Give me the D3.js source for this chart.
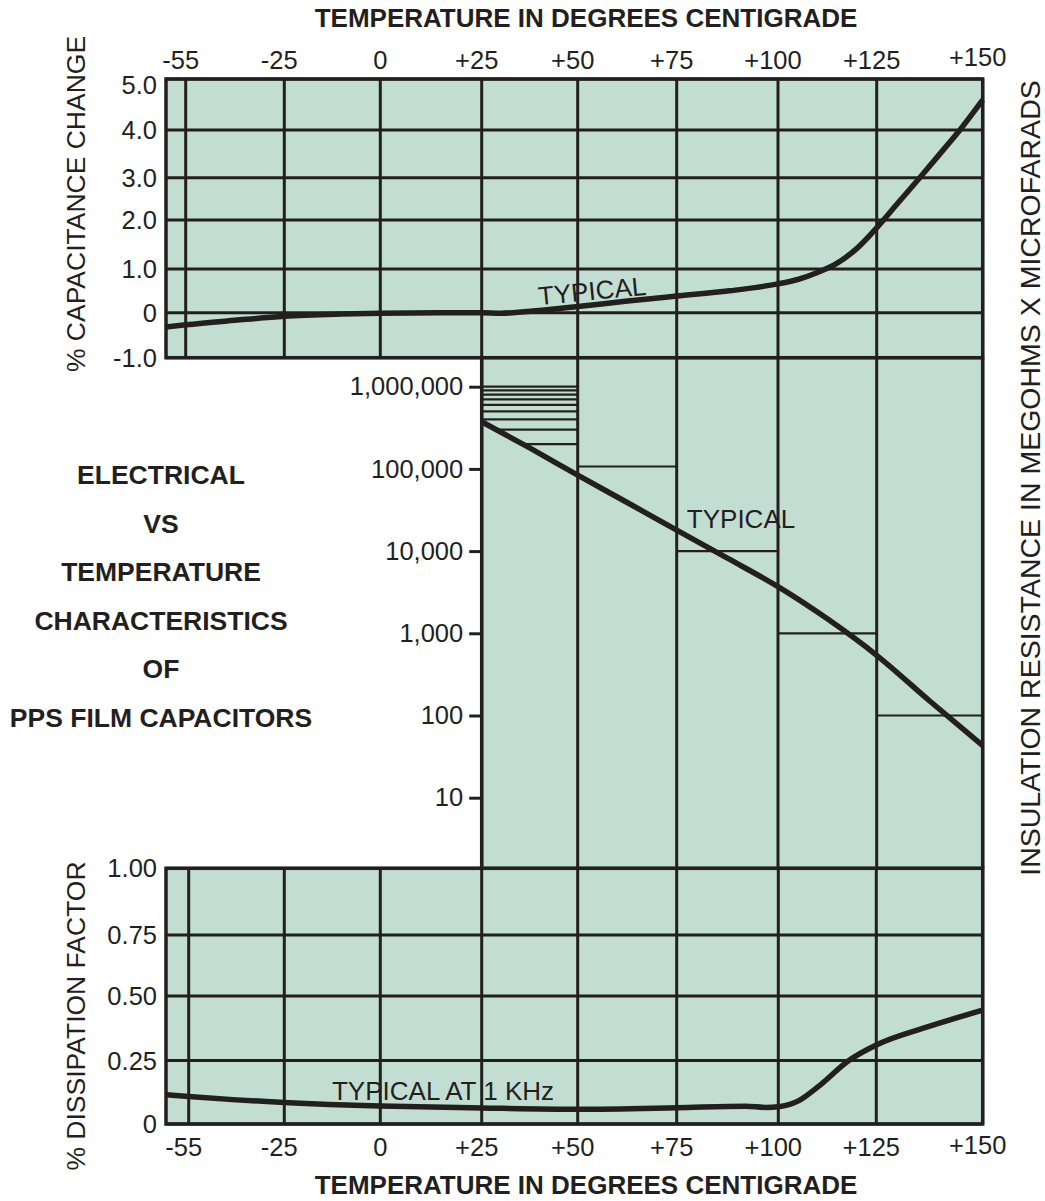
<!DOCTYPE html>
<html>
<head>
<meta charset="utf-8">
<script src="https://cdn.jsdelivr.net/npm/d3@7"></script>
<style>
  body { margin: 0; background: #ffffff; }
  svg { display: block; }
  text { font-family: "Liberation Sans", Arial, Helvetica, sans-serif; fill: #231f20; }
</style>
</head>
<body>
<svg id="chart" width="1045" height="1201"></svg>
<script>
// Temperature grid, °C
const tempTicks  = [-55, -25, 0, 25, 50, 75, 100, 125, 150];
const tempLabels = ["-55", "-25", "0", "+25", "+50", "+75", "+100", "+125", "+150"];

// % capacitance change vs temperature
const capTicks  = [-1, 0, 1, 2, 3, 4, 5];
const capLabels = ["-1.0", "0", "1.0", "2.0", "3.0", "4.0", "5.0"];
const capTemps  = [-61, -55, -40, -25, -10, 0, 15, 25, 30, 40, 50, 62, 75, 88, 100, 105, 110, 115, 120, 125, 130, 135, 140, 145, 150];
const capValues = [-0.32, -0.27, -0.17, -0.08, -0.03, -0.01, 0.0, 0.0, -0.01, 0.05, 0.14, 0.26, 0.38, 0.50, 0.66, 0.76, 0.92, 1.12, 1.42, 1.84, 2.40, 2.98, 3.51, 4.04, 4.59];

// Insulation resistance (megohms x microfarads) vs temperature
const irTicks  = [10, 100, 1000, 10000, 100000, 1000000];
const irLabels = ["10", "100", "1,000", "10,000", "100,000", "1,000,000"];
const irTemps  = [25, 37.5, 50, 62.5, 75, 87.5, 100, 112.5, 125, 137.5, 150];
const irValues = [375000, 180000, 84000, 39000, 18000, 8200, 3700, 1500, 540, 150, 43];

// Minimum IR limits: hatching between +25 and +50, then one step per interval
const irHatchValues = [1000000, 900000, 800000, 700000, 600000, 500000, 400000, 300000, 200000];
const irStepFrom  = [50, 75, 100, 125];
const irStepTo    = [75, 100, 125, 150];
const irStepValue = [107000, 10000, 1000, 100];

// Dissipation factor at 1 kHz vs temperature
const dfTicks  = [0, 0.25, 0.5, 0.75, 1];
const dfLabels = ["0", "0.25", "0.50", "0.75", "1.00"];
const dfTemps  = [-61, -55, -40, -25, 0, 25, 50, 75, 92, 97, 100, 105, 110, 118, 125, 137, 150];
const dfValues = [0.115, 0.108, 0.095, 0.085, 0.071, 0.063, 0.058, 0.064, 0.070, 0.065, 0.068, 0.09, 0.145, 0.25, 0.31, 0.38, 0.445];

const titleLines = ["ELECTRICAL", "VS", "TEMPERATURE", "CHARACTERISTICS", "OF", "PPS FILM CAPACITORS"];

const INK = "#231f20";
const FILL = "#c2ded3";

const svg = d3.select("#chart");

// The printed grid is not perfectly even, so the scales are piecewise linear.
const x = d3.scaleLinear()
  .domain([-61, -55, -25, 0, 25, 50, 75, 100, 125, 150])
  .range([166, 185.7, 284.3, 380.3, 481.7, 577.7, 676.7, 778, 876.7, 982.7]);
const xB = d3.scaleLinear()
  .domain([-61, -55, -25, 0, 25, 50, 75, 100, 125, 150])
  .range([166, 188.7, 284.3, 380.3, 481.7, 577.7, 676.7, 778.3, 876.3, 982.7]);
const yCap = d3.scaleLinear().domain(capTicks).range([357.7, 312.7, 269, 220, 177.7, 130, 79]);
const yIR  = d3.scaleLog().domain([10, 1000000]).range([797.7, 386.7]);
const yDF  = d3.scaleLinear().domain(dfTicks).range([1124, 1060.5, 996, 935, 868.3]);

const xLeft = x(-61), xRight = x(150), xMid = x(25);
const topY0 = yCap(5), topY1 = yCap(-1);
const botY0 = yDF(1), botY1 = yDF(0);

// Panel backgrounds
svg.append("rect").attr("x", xLeft).attr("y", topY0).attr("width", xRight - xLeft).attr("height", topY1 - topY0).attr("fill", FILL);
svg.append("rect").attr("x", xMid).attr("y", topY1).attr("width", xRight - xMid).attr("height", botY0 - topY1).attr("fill", FILL);
svg.append("rect").attr("x", xLeft).attr("y", botY0).attr("width", xRight - xLeft).attr("height", botY1 - botY0).attr("fill", FILL);

const grid = svg.append("g").attr("stroke", INK).attr("stroke-width", 3).attr("fill", "none");

// Top panel grid
capTicks.forEach(v => grid.append("line").attr("x1", xLeft).attr("x2", xRight).attr("y1", yCap(v)).attr("y2", yCap(v)));
tempTicks.forEach(t => grid.append("line").attr("x1", x(t)).attr("x2", x(t)).attr("y1", topY0).attr("y2", topY1));

// Middle panel verticals
tempTicks.filter(t => t >= 25).forEach(t =>
  grid.append("line").attr("x1", x(t)).attr("x2", x(t)).attr("y1", topY1).attr("y2", botY0));

// Bottom panel grid
dfTicks.forEach(v => grid.append("line").attr("x1", xLeft).attr("x2", xRight).attr("y1", yDF(v)).attr("y2", yDF(v)));
tempTicks.forEach(t => grid.append("line").attr("x1", xB(t)).attr("x2", xB(t)).attr("y1", botY0).attr("y2", botY1));

// Insulation resistance curve geometry
const irPts = irTemps.map((t, i) => [t, irValues[i]]);
const irLine = d3.line().x(d => x(d[0])).y(d => yIR(d[1])).curve(d3.curveMonotoneX);

// Hatching between +25 and +50, kept above the typical curve
const defs = svg.append("defs");
defs.append("clipPath").attr("id", "above-ir")
  .append("path")
  .attr("d", d3.area().x(d => x(d[0])).y0(topY1).y1(d => yIR(d[1])).curve(d3.curveMonotoneX)(irPts));

const steps = svg.append("g").attr("stroke", INK).attr("stroke-width", 2.2);
steps.append("g").attr("clip-path", "url(#above-ir)")
  .selectAll("line").data(irHatchValues).join("line")
  .attr("x1", x(25)).attr("x2", x(50))
  .attr("y1", d => yIR(d)).attr("y2", d => yIR(d));
steps.selectAll("line.step").data(irStepValue).join("line").attr("class", "step")
  .attr("x1", (d, i) => x(irStepFrom[i])).attr("x2", (d, i) => x(irStepTo[i]))
  .attr("y1", d => yIR(d)).attr("y2", d => yIR(d));

// Curves
const curves = svg.append("g").attr("fill", "none").attr("stroke", INK).attr("stroke-width", 5.5).attr("stroke-linecap", "butt");
curves.append("path")
  .attr("d", d3.line().x((t) => x(t)).y((t, i) => yCap(capValues[i])).curve(d3.curveMonotoneX)(capTemps));
curves.append("path").attr("d", irLine(irPts));
curves.append("path")
  .attr("d", d3.line().x((t) => xB(t)).y((t, i) => yDF(dfValues[i])).curve(d3.curveMonotoneX)(dfTemps));

// Frames
const frame = svg.append("g").attr("stroke", INK).attr("stroke-width", 3.5).attr("fill", "none");
frame.append("rect").attr("x", xLeft).attr("y", topY0).attr("width", xRight - xLeft).attr("height", topY1 - topY0);
frame.append("rect").attr("x", xLeft).attr("y", botY0).attr("width", xRight - xLeft).attr("height", botY1 - botY0);
frame.append("line").attr("x1", xRight).attr("x2", xRight).attr("y1", topY1).attr("y2", botY0);
frame.append("line").attr("x1", xMid).attr("x2", xMid).attr("y1", topY1).attr("y2", botY0);

const labelSize = 25.5;

// IR axis on the left edge of the middle panel
const irAxis = d3.axisLeft(yIR).tickValues(irTicks).tickFormat((d, i) => irLabels[i]).tickSize(11).tickSizeOuter(0).tickPadding(6);
const gIR = svg.append("g").attr("transform", `translate(${xMid - 1.5},0)`).call(irAxis);
gIR.select(".domain").remove();
gIR.selectAll(".tick line").attr("stroke", INK).attr("stroke-width", 3);
gIR.selectAll(".tick text").attr("font-size", labelSize).attr("fill", INK)
  .attr("font-family", "'Liberation Sans', Arial, sans-serif");

// Tick labels
const tl = svg.append("g").attr("font-size", labelSize);
tempTicks.forEach((t, i) => {
  const dx = t === 0 ? 0 : -5;
  tl.append("text").attr("x", x(t) + dx).attr("y", t === 150 ? 57 : 60)
    .attr("text-anchor", "middle").attr("dominant-baseline", "central").text(tempLabels[i]);
  tl.append("text").attr("x", xB(t) + dx).attr("y", t === 150 ? 1145 : 1147)
    .attr("text-anchor", "middle").attr("dominant-baseline", "central").text(tempLabels[i]);
});
capTicks.forEach((v, i) => {
  tl.append("text").attr("x", 157).attr("y", v === 5 ? yCap(v) + 6 : yCap(v))
    .attr("text-anchor", "end").attr("dominant-baseline", "central").text(capLabels[i]);
});
dfTicks.forEach((v, i) => {
  tl.append("text").attr("x", 157).attr("y", yDF(v))
    .attr("text-anchor", "end").attr("dominant-baseline", "central").text(dfLabels[i]);
});

// Axis titles
svg.append("text").attr("x", 586).attr("y", 18).attr("text-anchor", "middle").attr("dominant-baseline", "central")
  .attr("font-size", 26).attr("font-weight", "bold").text("TEMPERATURE IN DEGREES CENTIGRADE");
svg.append("text").attr("x", 586).attr("y", 1185).attr("text-anchor", "middle").attr("dominant-baseline", "central")
  .attr("font-size", 26).attr("font-weight", "bold").text("TEMPERATURE IN DEGREES CENTIGRADE");
svg.append("text").attr("transform", "translate(76,204) rotate(-90)").attr("text-anchor", "middle").attr("dominant-baseline", "central")
  .attr("font-size", 26.5).text("% CAPACITANCE CHANGE");
svg.append("text").attr("transform", "translate(76,1016) rotate(-90)").attr("text-anchor", "middle").attr("dominant-baseline", "central")
  .attr("font-size", 26.5).text("% DISSIPATION FACTOR");
svg.append("text").attr("transform", "translate(1030,478) rotate(-90)").attr("text-anchor", "middle").attr("dominant-baseline", "central")
  .attr("font-size", 28.5).text("INSULATION RESISTANCE IN MEGOHMS X MICROFARADS");

// Curve annotations
svg.append("text").attr("transform", "translate(592,291) rotate(-5.5)").attr("text-anchor", "middle").attr("dominant-baseline", "central")
  .attr("font-size", 26).text("TYPICAL");
svg.append("text").attr("x", 741).attr("y", 519).attr("text-anchor", "middle").attr("dominant-baseline", "central")
  .attr("font-size", 26).text("TYPICAL");
svg.append("text").attr("x", 443).attr("y", 1091).attr("text-anchor", "middle").attr("dominant-baseline", "central")
  .attr("font-size", 26).text("TYPICAL AT 1 KHz");

// Chart title block
svg.append("g").selectAll("text").data(titleLines).join("text")
  .attr("x", 161).attr("y", (d, i) => 475 + i * 48.6)
  .attr("text-anchor", "middle").attr("dominant-baseline", "central")
  .attr("font-size", 26.5).attr("font-weight", "bold").text(d => d);
</script>
</body>
</html>
